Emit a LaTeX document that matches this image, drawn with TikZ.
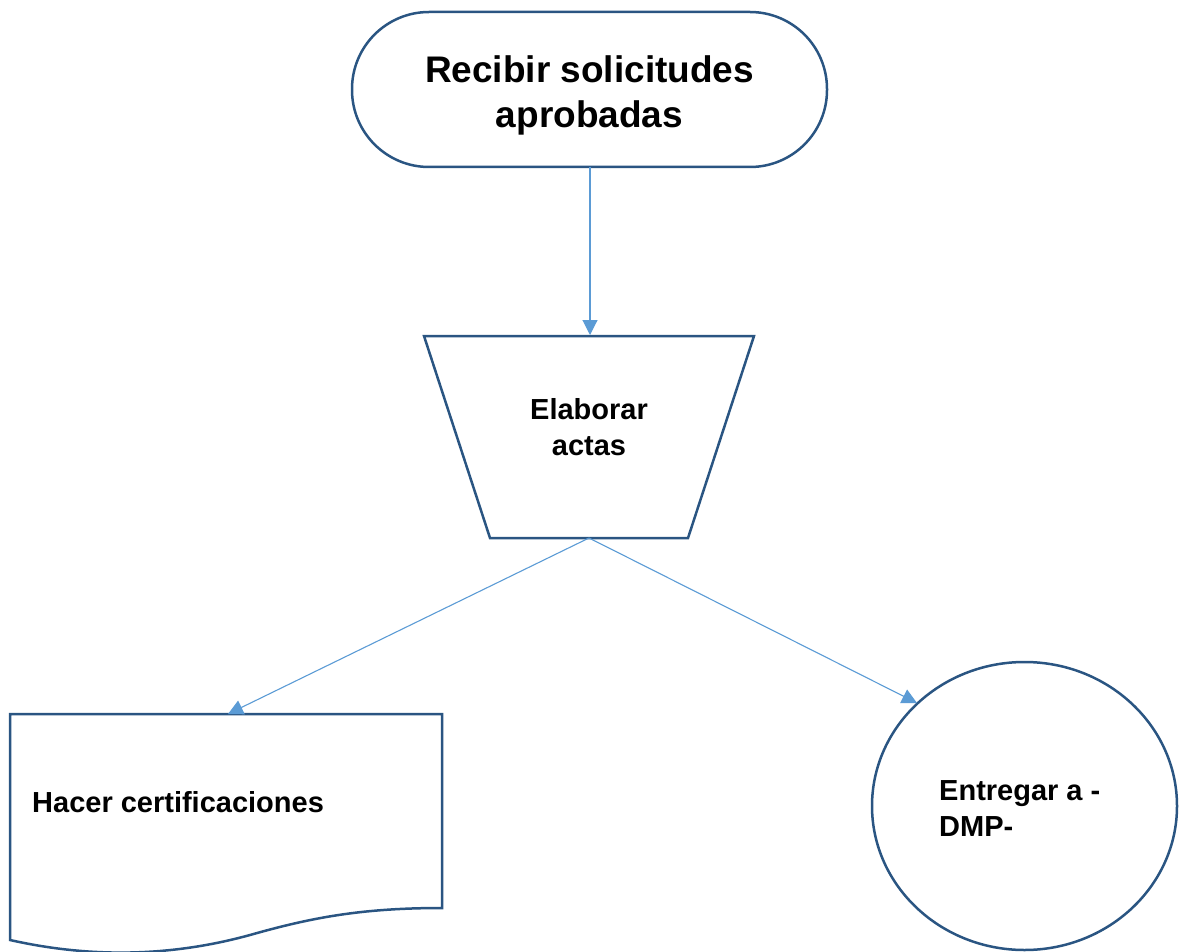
\documentclass[tikz,border=0pt]{standalone}
\usepackage{fontspec}
\setmainfont{Liberation Sans}
\usetikzlibrary{arrows.meta}
\definecolor{shapeblue}{HTML}{2A5582}
\definecolor{arrowblue}{HTML}{5B9BD5}
\begin{document}
\begin{tikzpicture}[x=1pt,y=-1pt,
  shapeline/.style={draw=shapeblue, line width=2.5pt, line join=miter},
  conn/.style={draw=arrowblue, line width=1.1pt, -{Triangle[length=15pt,width=15pt]}},
  lbl/.style={font=\fontsize{29}{36}\selectfont\bfseries, inner sep=0pt},
  ]
\useasboundingbox (0,0) rectangle (1180,952);
% terminal
\draw[shapeline, rounded corners=77pt] (352,12) rectangle (827,167);
\node[font=\fontsize{37}{45}\selectfont\bfseries, align=center, inner sep=0pt] (rec) at (589.5,95) {Recibir solicitudes\\aprobadas};
% manual operation
\draw[shapeline] (424,336) -- (754,336) -- (688,538) -- (490,538) -- cycle;
\node[lbl, align=center] (ela) at (589,427) {Elaborar\\actas};
% document
\draw[shapeline] (10,714) -- (442,714) -- (442,908) .. controls (360,908) and (310,918) .. (250,935) .. controls (170,957) and (90,958) .. (10,940) -- cycle;
\node[lbl, anchor=base west] (hac) at (32,812) {Hacer certificaciones};
% connector circle
\draw[shapeline] (1024.5,806) ellipse [x radius=152.5, y radius=144];
\node[lbl, align=left, anchor=west] (ent) at (939,808.5) {Entregar a -\\DMP-};
% connection points
\coordinate (recS) at (590,167);
\coordinate (elaN) at (590,335);
\coordinate (elaS) at (589,538);
\coordinate (hacN) at (228,714);
\coordinate (entNW) at (917,703);
\draw[conn] (recS) -- (elaN);
\draw[conn] (elaS) -- (hacN);
\draw[conn] (elaS) -- (entNW);
\end{tikzpicture}
\end{document}
